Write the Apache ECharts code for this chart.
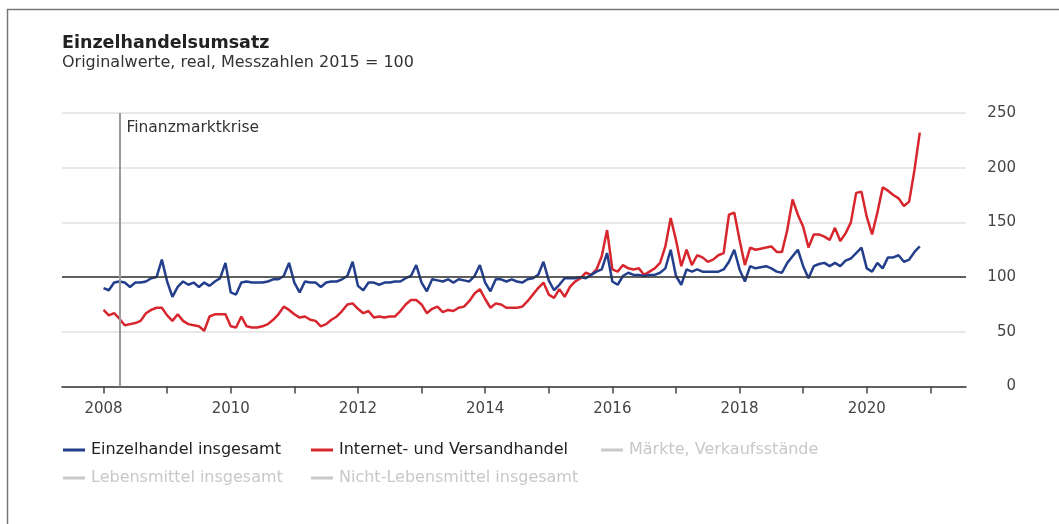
<!DOCTYPE html>
<html><head><meta charset="utf-8">
<script src="https://cdn.jsdelivr.net/npm/echarts@6/dist/echarts.min.js"></script>
<style>html,body{margin:0;padding:0;background:#fff}#c{width:1059px;height:524px}</style>
</head><body><div id="c"></div>
<script>
// ---- data (monthly, Jan 2008 .. Nov 2020) ----
const startYear = 2008;
const einzelhandel = [
  90, 88, 95, 96, 95, 91, 95, 95, 96, 99, 100, 116,
  96, 82, 91, 96, 93, 95, 91, 95, 92, 96, 99, 113,
  86, 84, 95, 96, 95, 95, 95, 96, 98, 98, 101, 113,
  95, 86, 96, 95, 95, 91, 95, 96, 96, 98, 101, 114,
  92, 88, 95, 95, 93, 95, 95, 96, 96, 99, 101, 111,
  95, 87, 98, 97, 96, 98, 95, 98, 97, 96, 101, 111,
  95, 87, 98, 98, 96, 98, 96, 95, 98, 99, 102, 114,
  97, 88, 93, 99, 99, 99, 100, 99, 102, 105, 107, 122,
  96, 93, 101, 104, 102, 102, 101, 102, 102, 104, 108, 125,
  101, 93, 107, 105, 107, 105, 105, 105, 105, 107, 114, 125,
  107, 96, 110, 108, 109, 110, 108, 105, 104, 113, 119, 125,
  110, 99, 110, 112, 113, 110, 113, 110, 115, 117, 122, 127,
  108, 105, 113, 108, 118, 118, 120, 114, 116, 123, 128
];
const internet = [
  70, 65, 67, 62, 56, 57, 58, 60, 67, 70, 72, 72,
  65, 60, 66, 60, 57, 56, 55, 51, 64, 66, 66, 66,
  55, 54, 64, 55, 54, 54, 55, 57, 61, 66, 73, 70,
  66, 63, 64, 61, 60, 55, 57, 61, 64, 69, 75, 76,
  71, 67, 69, 63, 64, 63, 64, 64, 69, 75, 79, 79,
  75, 67, 71, 73, 68, 70, 69, 72, 73, 78, 85, 89,
  80, 72, 76, 75, 72, 72, 72, 73, 78, 84, 90, 95,
  84, 81, 89, 82, 91, 96, 99, 104, 102, 107, 119, 143,
  107, 105, 111, 108, 107, 108, 102, 105, 108, 113, 128, 154,
  134, 110, 125, 111, 120, 118, 114, 116, 120, 122, 157, 159,
  134, 111, 127, 125, 126, 127, 128, 123, 123, 143, 171, 157,
  146, 127, 139, 139, 137, 134, 145, 133, 140, 150, 177, 178,
  155, 139, 159, 182, 179, 175, 172, 165, 169, 198, 232
];
const xTicks = [2008, 2009, 2010, 2011, 2012, 2013, 2014, 2015, 2016, 2017, 2018, 2019, 2020, 2021];
const xLabels = [2008, 2010, 2012, 2014, 2016, 2018, 2020];
const crisisX = 2008.25;
const crisisLabel = 'Finanzmarktkrise';
const baseValue = 100;
const seriesNames = ['Einzelhandel insgesamt', 'Internet- und Versandhandel', 'Märkte, Verkaufsstände', 'Lebensmittel insgesamt', 'Nicht-Lebensmittel insgesamt'];

const FONT = 'DejaVu Sans';
const toXY = arr => arr.map((v, i) => [startYear + i / 12, v]);

const chart = echarts.init(document.getElementById('c'), null, {renderer: 'canvas'});

function legendItem(name, left, top, active) {
  const sel = {}; sel[name] = active;
  return {
    data: [name], left: left, top: top, padding: 0, orient: 'horizontal',
    icon: 'rect', itemWidth: 22, itemHeight: 3, selected: sel, selectedMode: true,
    inactiveColor: '#c8c8c8', inactiveBorderColor: '#c8c8c8',
    textStyle: {fontFamily: FONT, fontSize: 16, color: '#222', padding: [0, 0, 0, 1]}
  };
}

chart.setOption({
  animation: false,
  backgroundColor: '#fff',
  graphic: [{
    type: 'polyline', silent: true,
    shape: {points: [[7.5, 524], [7.5, 9.5], [1059, 9.5]]},
    style: {stroke: '#777', lineWidth: 1.5, fill: null}
  }],
  title: [
    {text: 'Einzelhandelsumsatz', left: 62, top: 34, padding: 0,
     textStyle: {fontFamily: FONT, fontSize: 17.5, fontWeight: 'bold', color: '#222'}},
    {text: 'Originalwerte, real, Messzahlen 2015 = 100', left: 62, top: 55, padding: 0,
     textStyle: {fontFamily: FONT, fontSize: 16, fontWeight: 'normal', color: '#333'}}
  ],
  legend: [
    legendItem(seriesNames[0], 63, 442, true),
    legendItem(seriesNames[1], 311, 442, true),
    legendItem(seriesNames[2], 601, 442, false),
    legendItem(seriesNames[3], 63, 470, false),
    legendItem(seriesNames[4], 311, 470, false)
  ],
  grid: {left: 62, right: 93, top: 113, bottom: 137.5, containLabel: false},
  xAxis: {
    type: 'value', min: 2007.347, max: 2021.56,
    splitLine: {show: false},
    axisLine: {show: true, onZero: true, lineStyle: {color: '#333', width: 1.5}},
    axisTick: {show: true, customValues: xTicks, length: 7, lineStyle: {color: '#444', width: 1.5}},
    axisLabel: {show: true, customValues: xLabels, margin: 15, fontFamily: FONT, fontSize: 15, color: '#444',
      formatter: v => String(Math.round(v))}
  },
  yAxis: {
    type: 'value', min: 0, max: 250, interval: 50, position: 'right',
    axisLine: {show: false}, axisTick: {show: false},
    splitLine: {show: true, lineStyle: {color: '#e0e0e0', width: 1.5}},
    axisLabel: {align: 'right', margin: 50, fontFamily: FONT, fontSize: 15, color: '#444'}
  },
  series: [
    {
      name: seriesNames[0], type: 'line', data: toXY(einzelhandel), showSymbol: false, z: 4,
      color: '#233f8c', lineStyle: {color: '#233f8c', width: 2.5},
      markLine: {
        silent: true, symbol: ['none', 'none'], label: {show: false},
        data: [
          {yAxis: baseValue, lineStyle: {color: '#333', width: 1.5, type: 'solid'}},
          {xAxis: crisisX, lineStyle: {color: '#9a9a9a', width: 2, type: 'solid'}}
        ]
      },
      markPoint: {
        silent: true, symbol: 'circle', symbolSize: 0,
        data: [{coord: [crisisX, 250], value: crisisLabel}],
        label: {show: true, position: 'right', offset: [2, 15], formatter: crisisLabel,
          fontFamily: FONT, fontSize: 15.5, color: '#333'}
      }
    },
    {
      name: seriesNames[1], type: 'line', data: toXY(internet), showSymbol: false, z: 3,
      color: '#d7262e', lineStyle: {color: '#d7262e', width: 2.5}
    },
    {name: seriesNames[2], type: 'line', data: [], color: '#bbb'},
    {name: seriesNames[3], type: 'line', data: [], color: '#bbb'},
    {name: seriesNames[4], type: 'line', data: [], color: '#bbb'}
  ]
});
</script>
</body></html>
